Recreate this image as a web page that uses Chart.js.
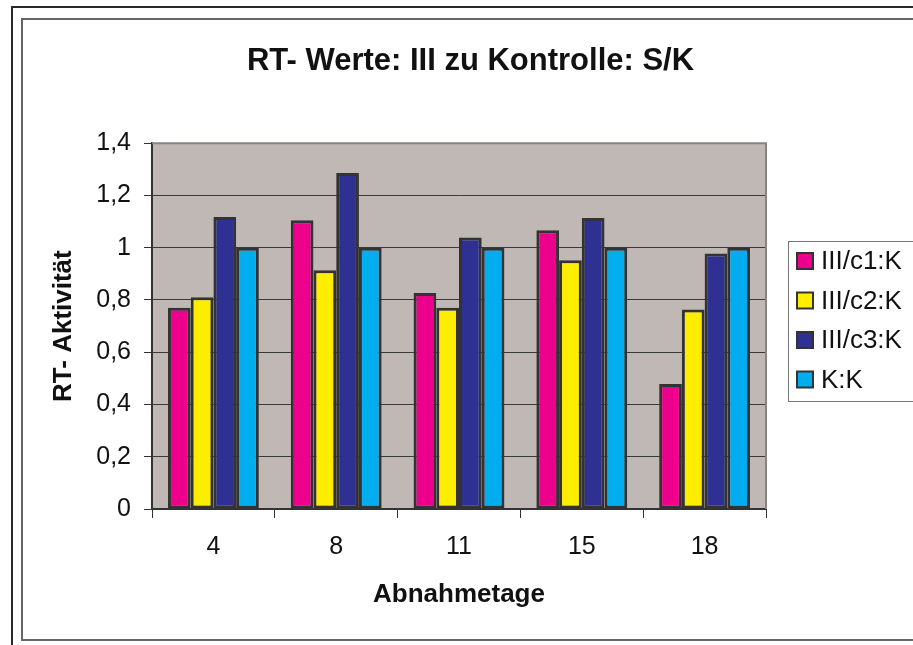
<!DOCTYPE html>
<html>
<head>
<meta charset="utf-8">
<script src="https://cdn.jsdelivr.net/npm/chart.js@4.4.1/dist/chart.umd.min.js"></script>
<style>
  body { margin: 0; background: #fff; }
  canvas { display: block; }
</style>
</head>
<body>
<canvas id="chart" width="913" height="645"></canvas>
<script>
// Data
const categories = ['4', '8', '11', '15', '18'];
const seriesNames = ['III/c1:K', 'III/c2:K', 'III/c3:K', 'K:K'];
const c1Values = [0.77, 1.105, 0.827, 1.067, 0.478];
const c2Values = [0.81, 0.914, 0.77, 0.952, 0.764];
const c3Values = [1.118, 1.286, 1.039, 1.114, 0.978];
const kkValues = [1, 1, 1, 1, 1];
const yTickLabels = ['0', '0,2', '0,4', '0,6', '0,8', '1', '1,2', '1,4'];

const seriesColors = ['#ec008c', '#ffed00', '#2e3192', '#00aeef'];
const FONT = "'Liberation Sans', Arial, sans-serif";

// Page frames + grey plot background
const backgroundPlugin = {
  id: 'background',
  beforeDraw(chart) {
    const { ctx, chartArea } = chart;
    ctx.save();
    ctx.fillStyle = '#fff';
    ctx.fillRect(0, 0, chart.width, chart.height);
    ctx.strokeStyle = '#2a2a2a';
    ctx.lineWidth = 2;
    ctx.strokeRect(12, 7, 1000, 700);
    ctx.strokeStyle = '#666';
    ctx.strokeRect(22, 19, 1000, 621);
    ctx.fillStyle = '#c0b8b5';
    ctx.fillRect(chartArea.left, chartArea.top, chartArea.right - chartArea.left, chartArea.bottom - chartArea.top);
    ctx.restore();
  },
  beforeDatasetsDraw(chart) {
    const { ctx, chartArea } = chart;
    ctx.save();
    ctx.strokeStyle = '#8c8380';
    ctx.lineWidth = 2;
    ctx.beginPath();
    ctx.moveTo(chartArea.left, chartArea.top);
    ctx.lineTo(chartArea.right, chartArea.top);
    ctx.lineTo(chartArea.right, chartArea.bottom);
    ctx.stroke();
    ctx.restore();
  }
};

// Legend box on the right, built from the datasets
const boxLegendPlugin = {
  id: 'boxLegend',
  afterDraw(chart) {
    const { ctx } = chart;
    ctx.save();
    ctx.strokeStyle = '#777';
    ctx.lineWidth = 1;
    ctx.strokeRect(788.5, 241.5, 200, 160);
    ctx.font = '26px ' + FONT;
    ctx.textBaseline = 'middle';
    chart.data.datasets.forEach((ds, i) => {
      const cy = 261 + i * 39.5;
      ctx.fillStyle = ds.backgroundColor;
      ctx.fillRect(797, cy - 8, 16, 16);
      ctx.strokeStyle = '#333';
      ctx.lineWidth = 2;
      ctx.strokeRect(797, cy - 8, 16, 16);
      ctx.fillStyle = '#111';
      ctx.fillText(ds.label, 821, cy + 1);
    });
    ctx.restore();
  }
};

const allValues = [c1Values, c2Values, c3Values, kkValues];

new Chart(document.getElementById('chart'), {
  type: 'bar',
  data: {
    labels: categories,
    datasets: seriesNames.map((name, i) => ({
      label: name,
      data: allValues[i],
      backgroundColor: seriesColors[i],
      borderColor: '#333',
      borderWidth: 3,
      borderSkipped: false,
      barPercentage: 1,
      categoryPercentage: 0.74
    }))
  },
  options: {
    responsive: false,
    animation: false,
    layout: {
      padding: { left: 28, right: 0, top: 0, bottom: 0 }
    },
    plugins: {
      legend: { display: false },
      tooltip: { enabled: false },
      title: {
        display: true,
        text: 'RT- Werte: III zu Kontrolle: S/K',
        color: '#111',
        font: { family: FONT, size: 31, weight: 'bold' },
        padding: { top: 43, bottom: 63 }
      }
    },
    scales: {
      x: {
        grid: {
          display: true,
          drawOnChartArea: false,
          offset: true,
          tickLength: 9,
          color: '#333'
        },
        border: { color: '#333', width: 2 },
        ticks: {
          color: '#111',
          padding: 14,
          font: { family: FONT, size: 25 }
        },
        title: {
          display: true,
          text: 'Abnahmetage',
          color: '#111',
          font: { family: FONT, size: 26, weight: 'bold' },
          padding: { top: 0, bottom: 35 }
        },
        afterFit(scale) { scale.height = 136; }
      },
      y: {
        min: 0,
        max: 1.4,
        ticks: {
          stepSize: 0.2,
          color: '#111',
          padding: 13,
          font: { family: FONT, size: 25 },
          callback: (value, index) => yTickLabels[index]
        },
        grid: {
          color: '#3a3a3a',
          lineWidth: 1,
          tickLength: 8,
          tickColor: '#333'
        },
        border: { color: '#333', width: 2 },
        title: {
          display: true,
          text: 'RT- Aktivität',
          color: '#111',
          font: { family: FONT, size: 26, weight: 'bold' },
          padding: { top: 20, bottom: 0 }
        },
        afterFit(scale) { scale.width = 124; }
      },
      // empty right-side axis just to reserve room for the legend box
      yRight: {
        type: 'linear',
        position: 'right',
        display: true,
        grid: { display: false },
        border: { display: false },
        ticks: { display: false },
        afterFit(scale) { scale.width = 147; }
      }
    }
  },
  plugins: [backgroundPlugin, boxLegendPlugin]
});
</script>
</body>
</html>
